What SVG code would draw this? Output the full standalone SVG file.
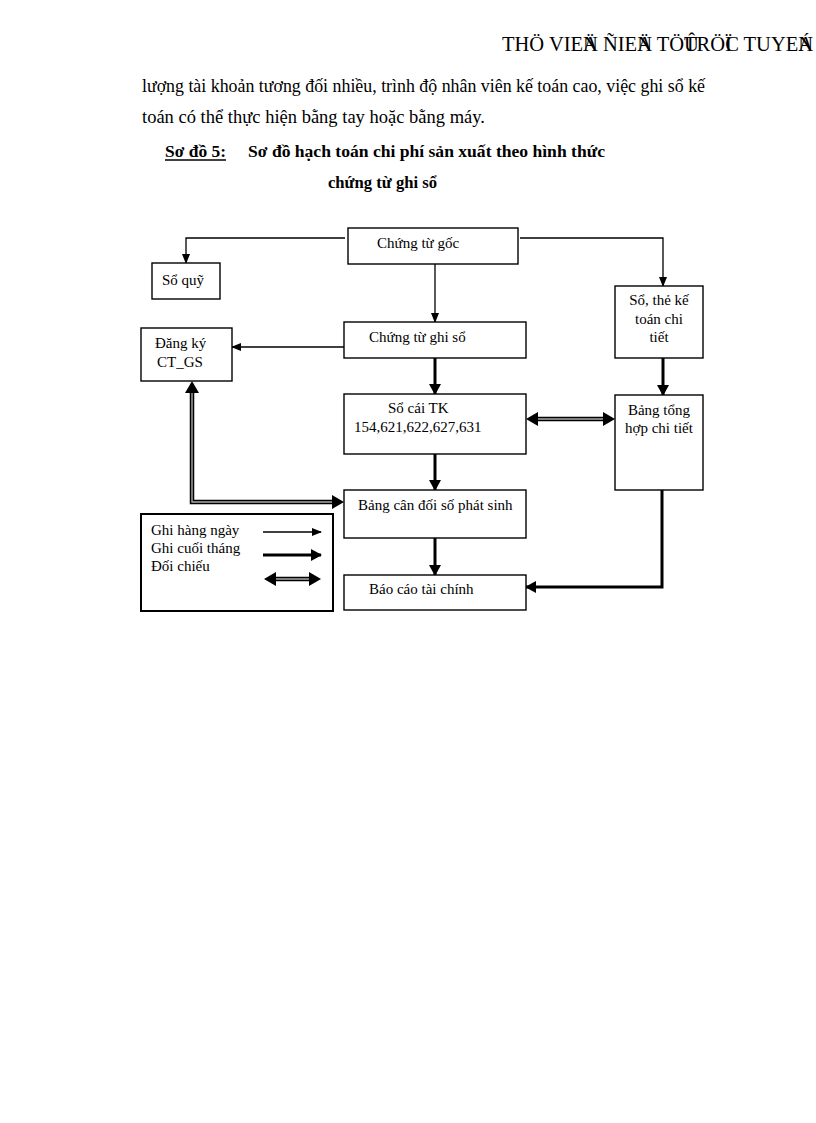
<svg xmlns="http://www.w3.org/2000/svg" width="816" height="1123" viewBox="0 0 816 1123">
<style>
.t{font-family:"Liberation Serif","Times New Roman",serif;fill:#000}
.hd{font-size:20.5px}
.body{font-size:18px}
.b{font-size:17.5px;font-weight:bold}
.n{font-size:15px}
.box{fill:#fff;stroke:#000;stroke-width:1.4}
.thin{fill:none;stroke:#000;stroke-width:1.3}
.thick{fill:none;stroke:#000;stroke-width:3}
.dblo{fill:none;stroke:#000;stroke-width:4.5}
.dbli{fill:none;stroke:#aaa;stroke-width:1.4}
</style>
<defs>
<marker id="ah" markerUnits="userSpaceOnUse" markerWidth="10" markerHeight="8" refX="9" refY="4" orient="auto"><path d="M0,0 L10,4 L0,8 z" fill="#000"/></marker>
<marker id="ahk" markerUnits="userSpaceOnUse" markerWidth="11" markerHeight="12" refX="10" refY="6" orient="auto"><path d="M0,0 L11,6 L0,12 z" fill="#000"/></marker>
</defs>
<rect width="816" height="1123" fill="#fff"/>

<text class="t hd" x="502" y="51">THÖ VIE<tspan>Ä</tspan><tspan dx="-14.8">N</tspan> ÑIE<tspan>Ä</tspan><tspan dx="-14.8">N</tspan> TÖ<tspan>Û</tspan><tspan dx="-14.8">T</tspan>RÖ<tspan>Ï</tspan><tspan dx="-6.8">C</tspan> TUYE<tspan>Á</tspan><tspan dx="-14.8">N</tspan></text>
<text class="t body" x="142" y="92" textLength="563" lengthAdjust="spacingAndGlyphs">lượng tài khoản tương đối nhiều, trình độ nhân viên kế toán cao, việc ghi sổ kế</text>
<text class="t body" x="142" y="123" textLength="343" lengthAdjust="spacingAndGlyphs">toán có thể thực hiện bằng tay hoặc bằng máy.</text>
<text class="t b" x="165" y="157" textLength="61" lengthAdjust="spacingAndGlyphs">Sơ đồ 5:</text>
<line x1="165" y1="160" x2="226" y2="160" stroke="#000" stroke-width="1.3"/>
<text class="t b" x="248" y="157" textLength="357" lengthAdjust="spacingAndGlyphs">Sơ đồ hạch toán chi phí sản xuất theo hình thức</text>
<text class="t b" x="328" y="188" textLength="109" lengthAdjust="spacingAndGlyphs">chứng từ ghi sổ</text>

<g id="connectors">
<path class="thin" d="M345,238 H186 V263" marker-end="url(#ah)"/>
<path class="thin" d="M435,264 V322" marker-end="url(#ah)"/>
<path class="thin" d="M520,238 H663 V286" marker-end="url(#ah)"/>
<path class="thin" d="M344,347 H232" marker-end="url(#ah)"/>
<path class="thick" d="M435,358 V394" marker-end="url(#ahk)"/>
<path class="thick" d="M663,358 V395" marker-end="url(#ahk)"/>
<path class="thick" d="M435,454 V490" marker-end="url(#ahk)"/>
<path class="thick" d="M435,538 V575" marker-end="url(#ahk)"/>
<path class="thick" d="M662,490 V587 H526" marker-end="url(#ahk)"/>
<path class="dblo" d="M537,419 H604"/>
<path class="dbli" d="M537,419 H604"/>
<polygon points="526,419 538,412 538,426" fill="#000"/>
<polygon points="615,419 603,412 603,426" fill="#000"/>
<path class="dblo" d="M192,392 V502 H333"/>
<path class="dbli" d="M192,392 V502 H333"/>
<polygon points="192,381 185,393 199,393" fill="#000"/>
<polygon points="344,502 332,495 332,509" fill="#000"/>
</g>

<g id="chung-tu-goc"><rect class="box" x="348" y="228" width="170" height="36"/><text class="t n" x="377" y="248">Chứng từ gốc</text></g>
<g id="so-quy"><rect class="box" x="152" y="263" width="68" height="36"/><text class="t n" x="162" y="285">Sổ quỹ</text></g>
<g id="chung-tu-ghi-so"><rect class="box" x="344" y="322" width="182" height="36"/><text class="t n" x="369" y="342">Chứng từ ghi sổ</text></g>
<g id="dang-ky"><rect class="box" x="141" y="328" width="91" height="53"/><text class="t n" x="155" y="348">Đăng ký</text><text class="t n" x="157" y="367">CT_GS</text></g>
<g id="so-the"><rect class="box" x="615" y="286" width="88" height="72"/><text class="t n" x="659" y="305" text-anchor="middle">Sổ, thẻ kế</text><text class="t n" x="659" y="324" text-anchor="middle">toán chi</text><text class="t n" x="659" y="342" text-anchor="middle">tiết</text></g>
<g id="so-cai"><rect class="box" x="344" y="394" width="182" height="60"/><text class="t n" x="388" y="413">Sổ cái TK</text><text class="t n" x="354" y="432">154,621,622,627,631</text></g>
<g id="bang-tong-hop"><rect class="box" x="615" y="395" width="88" height="95"/><text class="t n" x="659" y="415" text-anchor="middle">Bảng tổng</text><text class="t n" x="659" y="433" text-anchor="middle">hợp chi tiết</text></g>
<g id="bang-can-doi"><rect class="box" x="344" y="490" width="182" height="48"/><text class="t n" x="358" y="510">Bảng cân đối số phát sinh</text></g>
<g id="bao-cao"><rect class="box" x="344" y="575" width="182" height="35"/><text class="t n" x="369" y="594">Báo cáo tài chính</text></g>

<g id="legend">
<rect x="141" y="514" width="192" height="97" fill="#fff" stroke="#000" stroke-width="2"/>
<text class="t n" x="151" y="535">Ghi hàng ngày</text>
<text class="t n" x="151" y="553">Ghi cuối tháng</text>
<text class="t n" x="151" y="571">Đối chiếu</text>
<path class="thin" d="M263,532 H321" marker-end="url(#ah)"/>
<path class="thick" d="M263,555 H321" marker-end="url(#ahk)"/>
<path class="dblo" d="M275,579 H310"/>
<path class="dbli" d="M275,579 H310"/>
<polygon points="264,579 276,572 276,586" fill="#000"/>
<polygon points="321,579 309,572 309,586" fill="#000"/>
</g>
</svg>
